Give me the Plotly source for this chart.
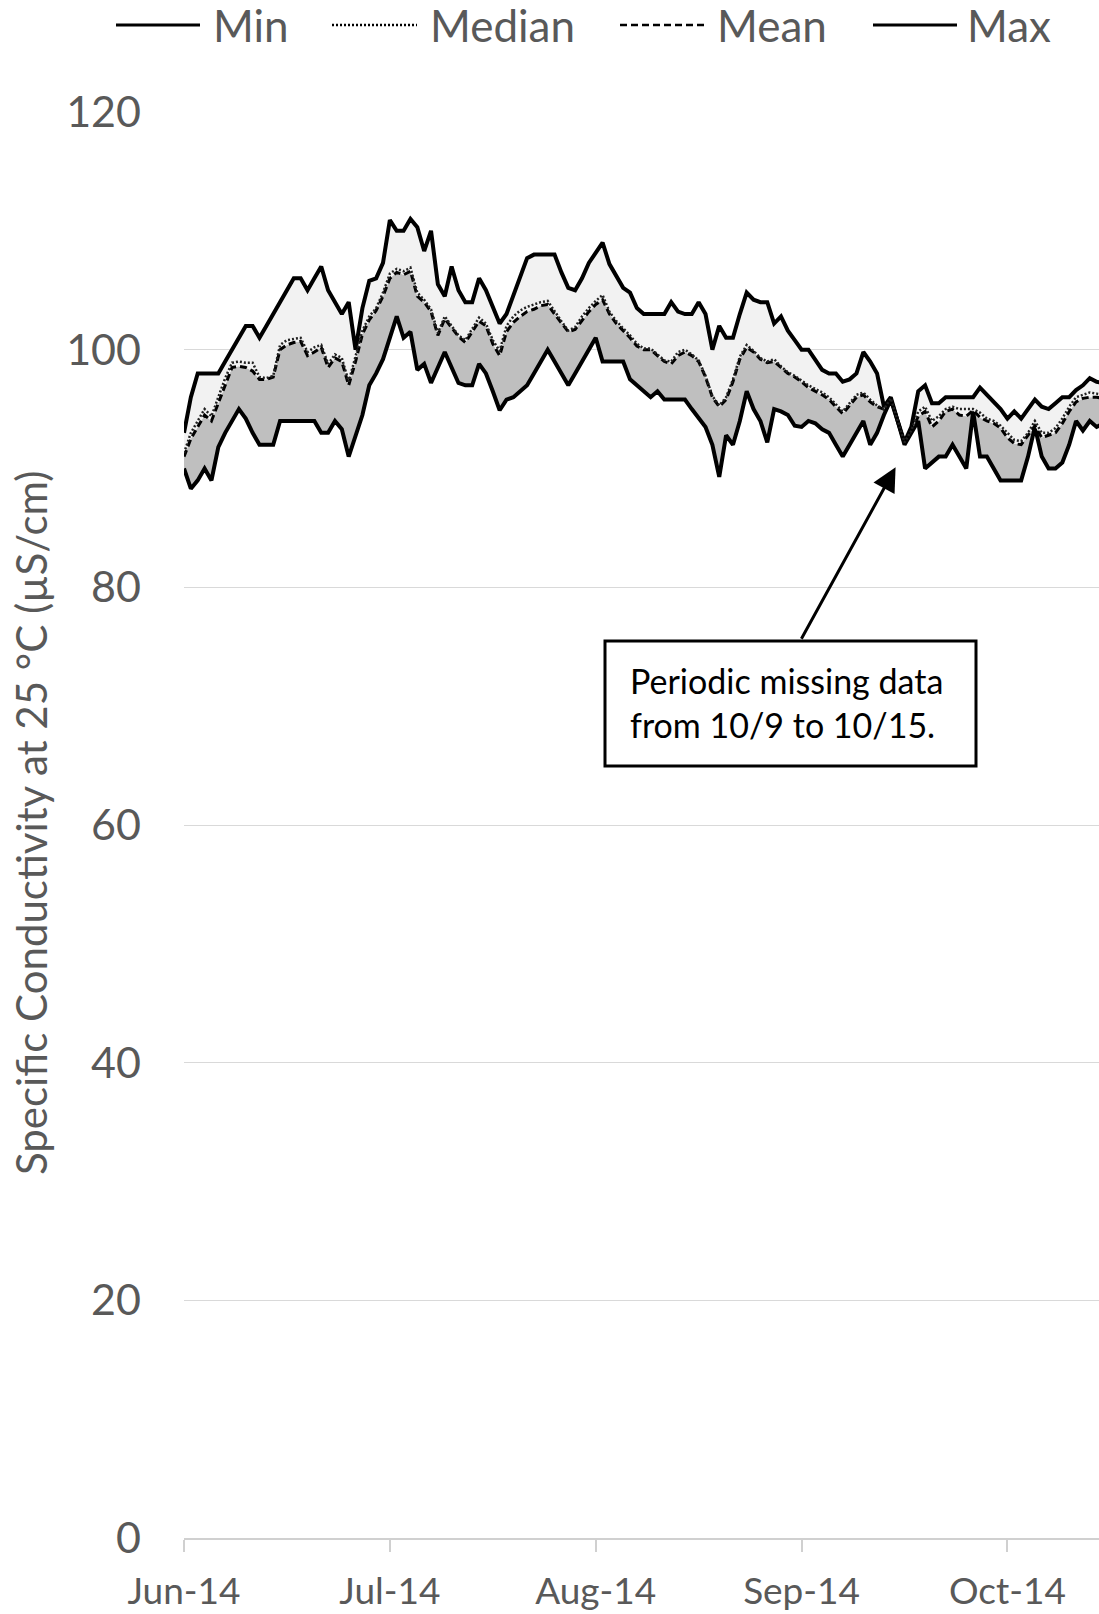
import plotly.graph_objects as go

# ---------------- data (daily values, Jun 2014 -> mid Oct 2014) ----------------
day_index = list(range(135))
tick_positions = [0, 30, 60, 90, 120]
tick_labels = ["Jun-14", "Jul-14", "Aug-14", "Sep-14", "Oct-14"]
y_ticks = [0, 20, 40, 60, 80, 100, 120]

max_vals = [
    93, 96, 98, 98, 98, 98, 99, 100, 101, 102, 102, 101, 102, 103, 104, 105, 106, 106, 105, 106,
    107, 105, 104, 103, 104, 100, 103.5, 105.8, 106, 107.3, 110.9, 110, 110, 111, 110.3, 108.3, 110, 105.5, 104.5, 107,
    105, 104, 104, 106, 105, 103.5, 102.2, 103, 104.5, 106, 107.7, 108, 108, 108, 108, 106.5, 105.2, 105, 106, 107.3,
    108.2, 109, 107.2, 106.2, 105.2, 104.8, 103.5, 103, 103, 103, 103, 104, 103.2, 103, 103, 104, 103, 100, 102, 101,
    101, 103, 104.8, 104.2, 104, 104, 102.2, 102.8, 101.6, 100.8, 100, 100, 99.2, 98.3, 98, 98, 97.3, 97.5, 98, 99.8,
    99, 98, 95.2, 96, 94, 92.2, 93.5, 96.5, 97, 95.5, 95.5, 96, 96, 96, 96, 96, 96.8, 96.2, 95.6, 95,
    94.2, 94.8, 94.2, 95, 95.8, 95.2, 95, 95.5, 96, 96, 96.6, 97, 97.6, 97.3, 97.2,
]
min_vals = [
    90, 88.3, 89, 90, 89, 91.8, 93, 94, 95, 94.2, 93, 92, 92, 92, 94, 94, 94, 94, 94, 94,
    93, 93, 94, 93.3, 91, 92.8, 94.5, 97, 98, 99.2, 101, 102.8, 101, 101.5, 98.3, 98.8, 97.2, 98.5, 99.8, 98.5,
    97.2, 97, 97, 98.8, 98, 96.5, 94.9, 95.8, 96, 96.5, 97, 98, 99, 100, 99, 98, 97, 98, 99, 100,
    101, 99, 99, 99, 99, 97.5, 97, 96.5, 96, 96.5, 95.8, 95.8, 95.8, 95.8, 95, 94.3, 93.5, 92, 89.3, 92.8,
    92, 94, 96.5, 95, 94, 92.2, 95, 94.8, 94.5, 93.6, 93.5, 94, 93.8, 93.3, 93, 92, 91, 92, 93, 94,
    92, 93, 94.5, 95.8, 94, 92, 93, 94, 90, 90.5, 91, 91, 92, 91, 90, 94.8, 91, 91, 90, 89,
    89, 89, 89, 91, 93.5, 91, 90, 90, 90.5, 92, 94, 93.2, 94, 93.5, 93.8,
]
mean_vals = [
    91, 92.5, 93.5, 94.5, 94, 95.5, 97, 98.5, 98.6, 98.5, 98.2, 97.5, 97.5, 97.7, 100, 100.4, 100.6, 100.7, 99.5, 99.8,
    100.2, 98.5, 99.3, 99, 97, 99, 101.3, 102.5, 103.3, 104.5, 106, 106.5, 106.3, 106.6, 104.5, 104, 103.2, 101.2, 102.6, 101.8,
    101.1, 100.6, 101.5, 102.4, 102, 100.5, 99.5, 101.5, 102.3, 102.8, 103.2, 103.4, 103.7, 103.8, 103, 102.2, 101.5, 101.7, 102.5, 103.2,
    103.8, 104.2, 103, 102.2, 101.6, 101, 100.3, 100, 100, 99.5, 99, 98.8, 99.5, 99.8, 99.5, 99, 97.7, 96, 95.2, 95.8,
    97.3, 99.2, 100.2, 99.8, 99.2, 98.9, 99, 98.5, 98, 97.7, 97.3, 96.8, 96.5, 96.2, 95.8, 95.2, 94.6, 95.3, 96, 96.2,
    95.6, 95.2, 95, 95.9, 94, 92.2, 93.1, 94.4, 94.8, 93.5, 94, 94.8, 95, 94.5, 94.4, 94.9, 94.3, 94, 93.8, 93.4,
    92.6, 92.1, 92, 92.8, 93.6, 92.6, 92.8, 93, 93.8, 94.8, 95.6, 95.9, 96, 96, 95.9,
]
median_vals = [
    91.3, 93, 94, 95, 94.4, 96, 97.6, 98.9, 99, 98.9, 98.9, 97.7, 97.6, 97.8, 100.4, 100.8, 100.9, 101, 99.8, 100.2,
    100.4, 98.8, 99.6, 99.3, 97.3, 99.5, 101.6, 102.8, 103.5, 104.8, 106.4, 106.8, 106.6, 106.9, 104.8, 104.2, 103.4, 101.4, 102.8, 102,
    101.2, 100.8, 101.8, 102.7, 102.2, 100.8, 99.9, 102, 102.8, 103.3, 103.6, 103.8, 104, 104.1, 103.2, 102.4, 101.6, 101.9, 102.8, 103.5,
    104.1, 104.6, 103.2, 102.4, 101.8, 101.2, 100.5, 100.1, 100.1, 99.6, 99.1, 99, 99.8, 100, 99.6, 99.1, 97.8, 96.1, 95.3, 96,
    97.5, 99.4, 100.4, 99.9, 99.3, 99, 99.2, 98.6, 98.1, 97.8, 97.4, 97, 96.7, 96.4, 96, 95.4, 94.8, 95.5, 96.2, 96.4,
    95.8, 95.3, 95, 95.9, 94, 92.2, 93.2, 94.8, 95.2, 94, 94.4, 95, 95.2, 95, 95, 95, 94.7, 94.2, 94, 93.6,
    93, 92.4, 92.3, 93, 94, 93, 93, 93.4, 94.2, 95.2, 96, 96.2, 96.4, 96.3, 96.2,
]

# ---------------- styling / geometry ----------------
W, H = 1099, 1614
L, R, T, B = 184, 1099, 112, 1538
FONT = "Lato"
GRAY_TXT = "#595959"


def px_x(p):
    return (p - L) / (R - L)


def px_y(p):
    return (B - p) / (B - T)


fig = go.Figure()
fig.add_trace(go.Scatter(x=day_index, y=min_vals, mode="lines", name="Min",
                         line=dict(color="black", width=4), showlegend=False))
fig.add_trace(go.Scatter(x=day_index, y=mean_vals, mode="lines", name="Mean",
                         line=dict(color="black", width=3, dash="7px,4px"),
                         fill="tonexty", fillcolor="#bfbfbf", showlegend=False))
fig.add_trace(go.Scatter(x=day_index, y=max_vals, mode="lines", name="Max",
                         line=dict(color="black", width=4),
                         fill="tonexty", fillcolor="#f2f2f2", showlegend=False))
fig.add_trace(go.Scatter(x=day_index, y=median_vals, mode="lines", name="Median",
                         line=dict(color="#222222", width=2.5, dash="2px,2px"), showlegend=False))

shapes = []
annotations = []

# manual legend (long line samples)
legend_items = [
    ("Min", "solid", 116, 200, 211),
    ("Median", "2px,2px", 332, 417, 428),
    ("Mean", "7px,4px", 620, 707, 715),
    ("Max", "solid", 873, 957, 965),
]
for name, dash, x0, x1, xt in legend_items:
    shapes.append(dict(type="line", xref="paper", yref="paper",
                       x0=px_x(x0), x1=px_x(x1), y0=px_y(25), y1=px_y(25),
                       line=dict(color="black", width=3 if dash == "solid" else 2.5, dash=dash)))
    annotations.append(dict(xref="paper", yref="paper", x=px_x(xt), y=px_y(25),
                            xanchor="left", yanchor="middle", showarrow=False,
                            text=name, font=dict(family=FONT, size=44, color=GRAY_TXT)))

# y-axis title
annotations.append(dict(xref="paper", yref="paper", x=px_x(31), y=px_y(823),
                        xanchor="center", yanchor="middle", showarrow=False, textangle=-90,
                        text="Specific Conductivity at 25 °C (µS/cm)",
                        font=dict(family=FONT, size=42, color=GRAY_TXT)))

# callout box + arrow
shapes.append(dict(type="rect", xref="paper", yref="paper",
                   x0=px_x(605), x1=px_x(976), y0=px_y(766), y1=px_y(641),
                   line=dict(color="black", width=3), fillcolor="white", layer="above"))
annotations.append(dict(xref="paper", yref="paper", x=px_x(628), y=px_y(702),
                        xanchor="left", yanchor="middle", showarrow=False, align="left",
                        text="Periodic missing data<br>from 10/9 to 10/15.",
                        font=dict(family=FONT, size=34, color="black")))
annotations.append(dict(x=103.7, y=90.1, xref="x", yref="y", text="", showarrow=True,
                        ax=-95, ay=173, arrowhead=2, arrowsize=1.6, arrowwidth=3,
                        arrowcolor="black"))

fig.update_layout(
    width=W, height=H, autosize=False,
    margin=dict(l=L, r=W - R, t=T, b=H - B, pad=0),
    paper_bgcolor="white", plot_bgcolor="white",
    shapes=shapes, annotations=annotations,
    showlegend=False,
    xaxis=dict(range=[0, (R - L) / 6.862], tickmode="array", tickvals=tick_positions,
               ticktext=tick_labels, showgrid=False, zeroline=False,
               showline=True, linecolor="#d0d0d0", linewidth=1.5,
               ticks="outside", ticklen=12, tickcolor="#d0d0d0", tickwidth=1.5,
               tickfont=dict(family=FONT, size=37, color=GRAY_TXT), ticklabelstandoff=8),
    yaxis=dict(range=[0, 120], tickmode="array", tickvals=y_ticks,
               showgrid=True, gridcolor="#d9d9d9", gridwidth=1, zeroline=False,
               showline=False, ticks="", ticklabelstandoff=42,
               tickfont=dict(family=FONT, size=43, color=GRAY_TXT)),
)

fig.write_html("out.html")
